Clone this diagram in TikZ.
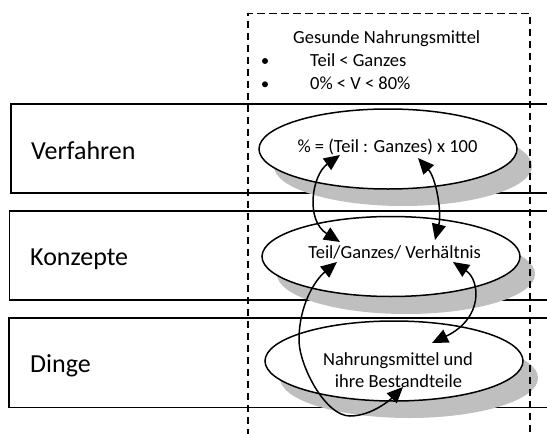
\documentclass[tikz,border=0pt]{standalone}
\usepackage{fontspec}
\setmainfont{Carlito}
\usetikzlibrary{arrows.meta,shapes.geometric}
\definecolor{shadowgray}{HTML}{BFBFBF}
\tikzset{
  band/.style={line width=1.6pt},
  guide/.style={line width=1.4pt, dash pattern=on 7.5pt off 4.5pt},
  ovalshape/.style={ellipse, minimum width=258pt, minimum height=80pt, inner sep=0pt},
  oval/.style={ovalshape, draw, line width=1.5pt, fill=white},
  ovalshadow/.style={ovalshape, fill=shadowgray, draw=none},
  lbl/.style={font=\fontsize{26}{31}\selectfont, anchor=base west, inner sep=0pt},
  txt/.style={font=\fontsize{18.5}{22}\selectfont, inner sep=0pt},
  link/.style={line width=1.5pt, {Triangle[length=16pt,width=14pt]}-{Triangle[length=16pt,width=14pt]}},
  dot/.style={circle, fill, inner sep=0pt, minimum size=6pt}
}
\begin{document}
\begin{tikzpicture}[x=1pt,y=-1pt]
\clip (0,0) rectangle (547,434);
\fill[white] (0,0) rectangle (547,434);
% bands
\draw[band] (549,104) -- (11,104) -- (11,192.7) -- (549,192.7);
\draw[band] (549,210.7) -- (9.5,210.7) -- (9.5,300) -- (549,300);
\draw[band] (549,317.7) -- (9,317.7) -- (9,407.3) -- (549,407.3);
\node[lbl] (lv) at (31,159.3) {Verfahren};
\node[lbl] (lk) at (30,265.7) {Konzepte};
\node[lbl] (ld) at (30,372.3) {Dinge};
% top text
\node[txt, anchor=base] (head) at (386.7,43.3) {Gesunde Nahrungsmittel};
\node[dot] (b1) at (265,61) {};
\node[dot] (b2) at (265,84.3) {};
\node[txt, anchor=base west] (r1) at (310,66) {Teil < Ganzes};
\node[txt, anchor=base west] (r2) at (310,89.3) {0\% < V < 80\%};
% shadows
\node[ovalshadow] (s1) at (403,166) {};
\node[ovalshadow] (s2) at (406,274) {};
\node[ovalshadow] (s3) at (409,378) {};
% dashed frame
\draw[guide] (248,436) -- (248,13.3) -- (530,13.3) -- (530,436);
% ellipses
\node[oval] (e1) at (388,149) {};
\node[oval] (e2) at (391,256.5) {};
\node[oval] (e3) at (394,361) {};
\node[txt, anchor=base] (t1) at (387.5,152.3) {\% = (Teil : Ganzes) x 100};
\node[txt, anchor=base] (t2) at (394.7,258.3) {Teil/Ganzes/ Verhältnis};
\node[txt, anchor=base] (t3a) at (398,365) {Nahrungsmittel und};
\node[txt, anchor=base] (t3b) at (398.5,387.3) {ihre Bestandteile};
% connector ends
\coordinate (a1s) at ([shift={(-48,6)}]e1.center);
\coordinate (a1e) at ([shift={(-51,-14.5)}]e2.center);
\coordinate (a2s) at ([shift={(30,9)}]e1.center);
\coordinate (a2e) at ([shift={(44,-16.5)}]e2.center);
\coordinate (a3s) at ([shift={(-54,5.5)}]e2.center);
\coordinate (a3m) at ([shift={(-95,-21)}]e3.center);
\coordinate (a3n) at ([shift={(-44,55)}]e3.center);
\coordinate (a3e) at ([shift={(9,26)}]e3.center);
\coordinate (a4s) at ([shift={(62,5.5)}]e2.center);
\coordinate (a4e) at ([shift={(38,-18)}]e3.center);
% connectors
\draw[link] (a1s) .. controls +(-28,20) and +(-35,-22) .. (a1e);
\draw[link] (a2s) .. controls +(18,20) and +(7,-28) .. (a2e);
\draw[link] (a3s) .. controls +(-22,18) and +(0,-35) .. (a3m)
  .. controls +(0,25) and +(-25,0) .. (a3n)
  .. controls +(22,0) and +(-12,12) .. (a3e);
\draw[link] (a4s) .. controls +(27,18) and +(52,-25) .. (a4e);
\end{tikzpicture}
\end{document}
